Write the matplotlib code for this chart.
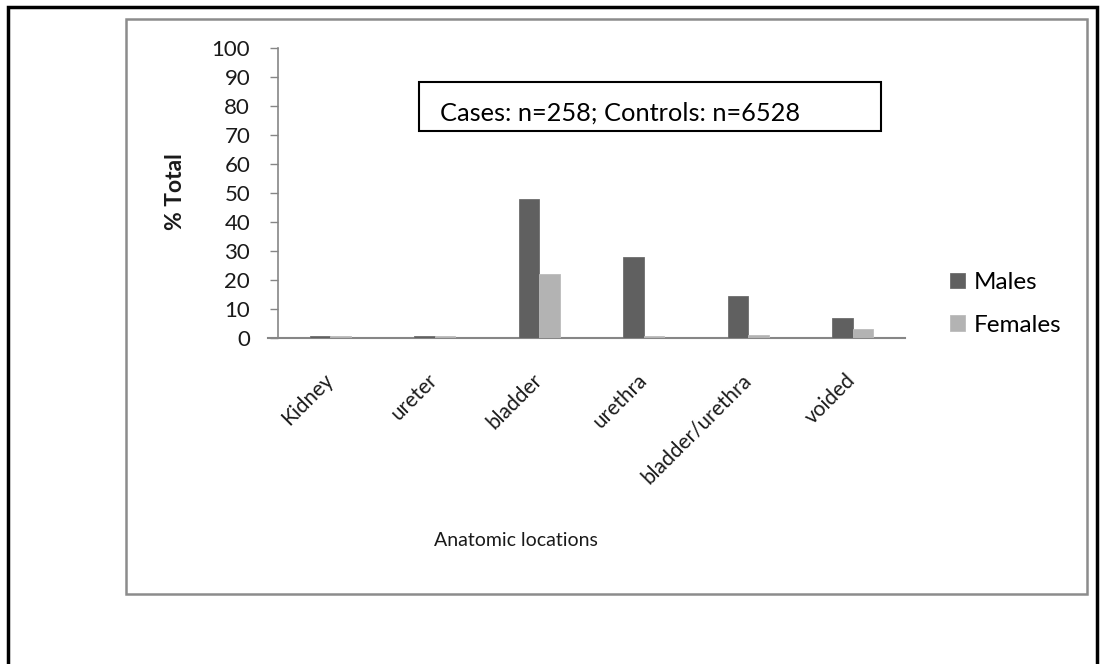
import numpy as np
import matplotlib.pyplot as plt
from matplotlib.patches import Rectangle

# data: share of total (%) by anatomic location
locations = ["Kidney", "ureter", "bladder", "urethra", "bladder/urethra", "voided"]
males = [0.6, 0.6, 48, 28, 14.5, 7]
females = [0.6, 0.6, 22, 0.8, 1, 3]

W, H = 1100, 664
plt.rcParams["font.family"] = ["Lato", "DejaVu Sans"]

fig = plt.figure(figsize=(W / 100, H / 100), dpi=100)


def fig_box(x0, y0, x1, y1):
    # pixel box (top-left origin) -> figure fraction [left, bottom, width, height]
    return [x0 / W, 1 - y1 / H, (x1 - x0) / W, (y1 - y0) / H]


# outer page frame and chart area frame
fig.patches.append(Rectangle((8 / W, -0.1), (1097 - 8) / W, 1.1 - 7 / H,
                             transform=fig.transFigure, fill=False,
                             edgecolor="black", linewidth=2.5))
fig.patches.append(Rectangle((126 / W, 1 - 594 / H), (1087 - 126) / W, (594 - 19) / H,
                             transform=fig.transFigure, fill=False,
                             edgecolor="#8c8c8c", linewidth=1.8))

ax = fig.add_axes(fig_box(278, 48, 905, 338))

x = np.arange(len(locations))
bw = 0.196
ax.bar(x - bw / 2, males, bw, color="#606060", edgecolor="#6e6e6e",
       linewidth=0.6, label="Males", zorder=3)
ax.bar(x + bw / 2, females, bw, color="#b3b3b3", edgecolor="#bcbcbc",
       linewidth=0.6, label="Females", zorder=3)

ax.set_xlim(-0.5, len(locations) - 0.5)
ax.set_ylim(0, 100)
ax.set_yticks(np.arange(0, 101, 10))

for side in ["top", "right"]:
    ax.spines[side].set_visible(False)
ax.spines["left"].set_color("#868686")
ax.spines["bottom"].set_color("#868686")
ax.spines["left"].set_linewidth(1.2)
ax.spines["bottom"].set_linewidth(1.5)
ax.spines["bottom"].set_bounds(-0.595, len(locations) - 0.5)

ax.tick_params(axis="y", length=6, width=1, color="#868686",
               labelsize=16, pad=14, labelcolor="#1a1a1a")
ax.tick_params(axis="x", length=0, pad=28)
ax.set_xticks(x)
ax.set_xticklabels(locations, rotation=45, ha="right", va="center",
                   rotation_mode="anchor", fontsize=15, color="#1a1a1a")

fig.text(176 / W, 1 - 192 / H, "% Total", rotation=90, ha="center",
         va="center", fontsize=16.5, fontweight="bold", color="#1a1a1a")
fig.text(516 / W, 1 - 541 / H, "Anatomic locations", ha="center",
         va="center", fontsize=14, color="#1a1a1a")

ax.legend(loc="upper left", bbox_to_anchor=(950 / W, 1 - 272 / H),
          bbox_transform=fig.transFigure, frameon=False, fontsize=17.5,
          handlelength=0.62, handleheight=0.62, handletextpad=0.35,
          labelspacing=0.9, borderpad=0, borderaxespad=0)

# sample size note
fig.patches.append(Rectangle((419 / W, 1 - 131 / H), (881 - 419) / W, (131 - 82) / H,
                             transform=fig.transFigure, fill=True,
                             facecolor="white", edgecolor="black", linewidth=1.5))
fig.text(440 / W, 1 - 113 / H, "Cases: n=258; Controls: n=6528",
         ha="left", va="center", fontsize=18.3, color="black")

fig.savefig("out.png", dpi=100)
